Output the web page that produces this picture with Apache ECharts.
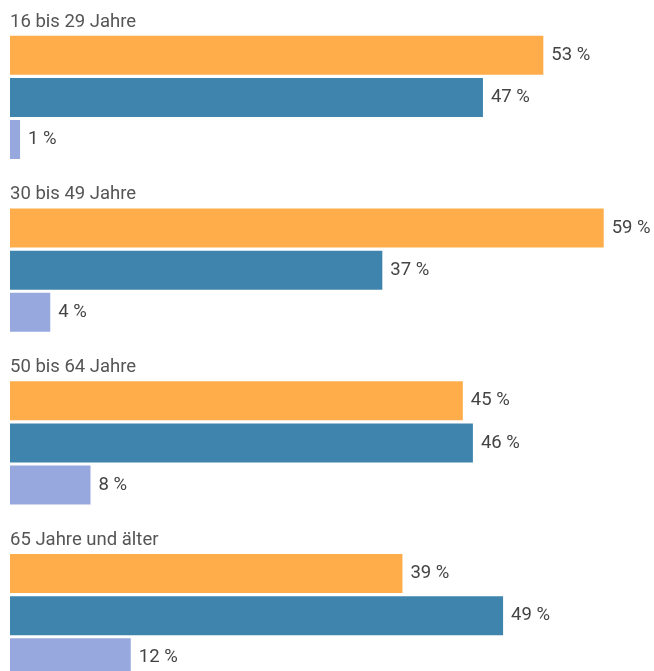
<!DOCTYPE html>
<html lang="de">
<head>
	<meta charset="UTF-8">
	<title>Altersgruppen</title>
	<style>
		html, body { margin: 0; padding: 0; background: #fff; overflow: hidden; }
		#chart { width: 654px; height: 702px; }
	</style>
</head>
<body>
	<div id="chart"></div>
	<script src="https://cdn.jsdelivr.net/npm/echarts@6/dist/echarts.min.js"></script>
	<script>
		// Gruppen (von oben nach unten)
		var groups = ['16 bis 29 Jahre', '30 bis 49 Jahre', '50 bis 64 Jahre', '65 Jahre und älter'];

		// Werte in Prozent
		var orangeValues = [53, 59, 45, 39];
		var blueValues = [47, 37, 46, 49];
		var purpleValues = [1, 4, 8, 12];

		var colors = ['#FFAD4A', '#3E84AD', '#97A8DF'];

		function barSeries(values, color) {
			return {
				type: 'bar',
				data: values,
				barWidth: 39,
				barGap: '8%',
				itemStyle: { color: color },
				label: {
					show: true,
					position: 'right',
					distance: 8,
					color: '#444',
					fontFamily: 'Roboto',
					fontSize: 18.5,
					formatter: '{c} %'
				},
				silent: true
			};
		}

		var option = {
			animation: false,
			grid: { left: 10, right: 4, top: 11, bottom: 0 },
			xAxis: {
				type: 'value',
				min: 0,
				max: 63.6,
				show: false
			},
			yAxis: {
				type: 'category',
				data: groups,
				inverse: true,
				axisLine: { show: false },
				axisTick: { show: false },
				axisLabel: {
					inside: true,
					margin: 0,
					align: 'left',
					verticalAlign: 'middle',
					hideOverlap: false,
					formatter: function (v) { return '{t|' + v + '}'; },
					rich: {
						t: {
							padding: [0, 0, 151, 0],
							color: '#555',
							fontFamily: 'Roboto',
							fontSize: 18.5
						}
					}
				}
			},
			series: [
				barSeries(orangeValues, colors[0]),
				barSeries(blueValues, colors[1]),
				barSeries(purpleValues, colors[2])
			]
		};

		var myChart = echarts.init(document.getElementById('chart'));
		myChart.setOption(option);
	</script>
</body>
</html>
